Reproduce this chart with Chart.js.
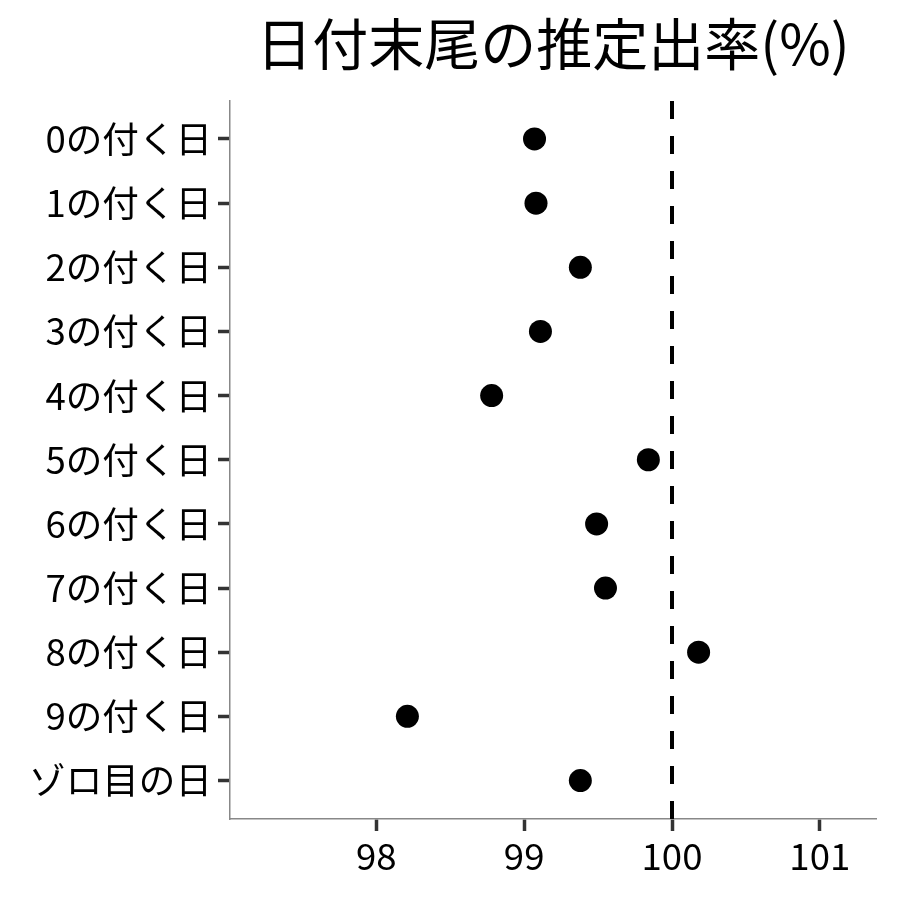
<!DOCTYPE html>
<html>
<head>
<meta charset="utf-8">
<script src="https://cdn.jsdelivr.net/npm/chart.js@4/dist/chart.umd.min.js"></script>
<style>
html, body { margin: 0; padding: 0; background: #fff; }
#wrap { width: 900px; height: 900px; }
</style>
</head>
<body>
<div id="wrap"><canvas id="c" width="900" height="900"></canvas></div>
<script>
const categories = ['0の付く日','1の付く日','2の付く日','3の付く日','4の付く日','5の付く日','6の付く日','7の付く日','8の付く日','9の付く日','ゾロ目の日'];
const rates = [99.07, 99.08, 99.38, 99.11, 98.78, 99.84, 99.49, 99.55, 100.18, 98.21, 99.38];
const xTicks = [98, 99, 100, 101];
const refValue = 100;
const titleText = '日付末尾の推定出率(%)';

const FONT = "'Noto Sans CJK JP', 'Noto Sans', sans-serif";
const yMin = -0.6, yMax = categories.length - 1 + 0.6;

const pointData = rates.map((v, i) => ({ x: v, y: i }));
// drawn from the bottom edge upward so the dash pattern starts at the x axis
const refLine = [{ x: refValue, y: yMax }, { x: refValue, y: yMin }];

new Chart(document.getElementById('c'), {
  type: 'scatter',
  data: {
    datasets: [
      {
        type: 'line',
        data: refLine,
        borderColor: '#000',
        borderWidth: 4,
        borderDash: [18, 17],
        borderCapStyle: 'butt',
        pointRadius: 0,
        fill: false,
        order: 2
      },
      {
        data: pointData,
        backgroundColor: '#000',
        borderColor: '#000',
        pointRadius: 11.5,
        pointHoverRadius: 11.5,
        borderWidth: 0,
        order: 1
      }
    ]
  },
  options: {
    responsive: false,
    animation: false,
    events: [],
    layout: { padding: { left: 0, right: 24, top: 0, bottom: 0 } },
    plugins: {
      legend: { display: false },
      tooltip: { enabled: false },
      title: {
        display: true,
        text: titleText,
        fullSize: false,
        color: '#000',
        font: { family: FONT, size: 56, weight: 'normal', lineHeight: 1.2 },
        padding: { top: 10, bottom: 23.3 }
      }
    },
    scales: {
      x: {
        type: 'linear',
        min: 97.01,
        max: 101.38,
        afterBuildTicks: axis => { axis.ticks = xTicks.map(v => ({ value: v })); },
        afterFit: axis => { axis.height = 81; },
        border: { display: true, color: '#888', width: 1.5 },
        grid: { display: true, drawOnChartArea: false, drawTicks: true, tickLength: 12, tickWidth: 3.5, tickColor: '#333' },
        ticks: { color: '#000', font: { family: FONT, size: 36.6 }, padding: 3, maxRotation: 0 }
      },
      y: {
        type: 'linear',
        reverse: true,
        min: yMin,
        max: yMax,
        afterBuildTicks: axis => { axis.ticks = categories.map((_, i) => ({ value: i })); },
        afterFit: axis => { axis.width = 230; },
        border: { display: true, color: '#888', width: 1.5 },
        grid: { display: true, drawOnChartArea: false, drawTicks: true, tickLength: 12, tickWidth: 3.5, tickColor: '#333' },
        ticks: {
          color: '#000',
          font: { family: FONT, size: 36.6 },
          padding: 6,
          callback: v => categories[v] !== undefined ? categories[v] : ''
        }
      }
    }
  }
});
</script>
</body>
</html>
